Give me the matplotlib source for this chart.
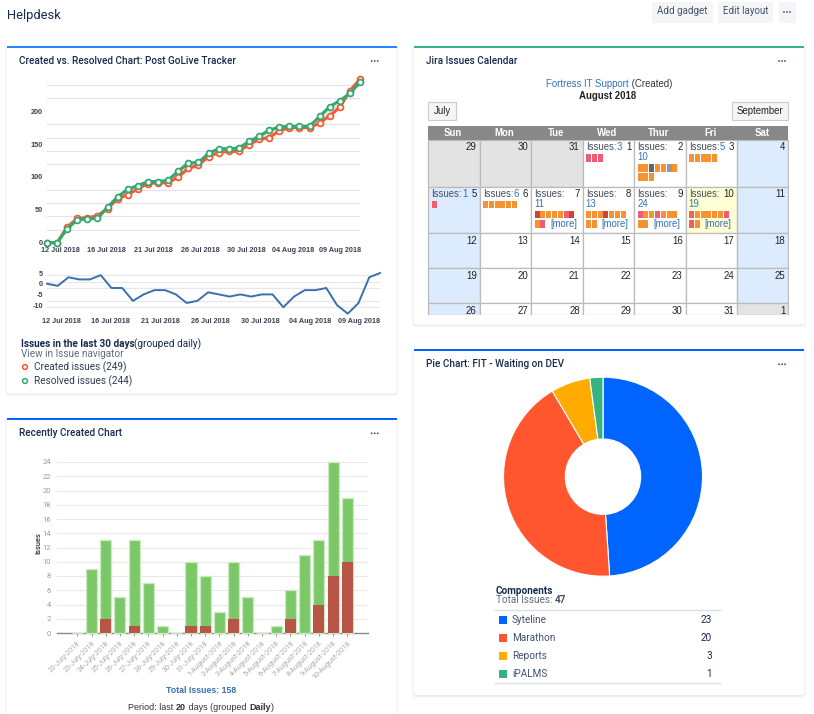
import matplotlib
matplotlib.use("Agg")
import matplotlib.pyplot as plt
from matplotlib.patches import Rectangle, FancyBboxPatch, Circle

# ---------- data ----------
created = [0,0,24,37,38,41,52,67,73,82,90,91,91,100,113,118,131,137,139,139,149,157,160,170,175,175,175,182,193,206,231,249]
resolved = [0,0,21,35,36,37,54,70,81,87,93,93,95,109,121,122,136,143,143,144,154,162,171,176,177,177,177,192,207,216,227,244]
diff = [0,-1,3,2,2,4,-2,-2,-8,-5,-3,-3,-5,-9,-8,-4,-5,-6,-5,-6,-5,-5,-11,-6,-3,-3,-2,-10,-14,-9,3,5]
date_labels = ["12 Jul 2018","16 Jul 2018","21 Jul 2018","26 Jul 2018","30 Jul 2018","04 Aug 2018","09 Aug 2018"]

bar_days = ["22-July-2018","23-July-2018","24-July-2018","25-July-2018","26-July-2018","27-July-2018","28-July-2018",
            "29-July-2018","30-July-2018","31-July-2018","1-August-2018","2-August-2018","3-August-2018","4-August-2018",
            "5-August-2018","6-August-2018","7-August-2018","8-August-2018","9-August-2018","10-August-2018"]
bar_total = [0,9,13,5,13,7,1,0,10,8,3,10,5,0,1,6,11,13,24,19]
bar_red = [0,0,2,0,1,0,0,0,1,1,0,2,0,0,0,2,0,4,8,10]

pie_names = ["Syteline","Marathon","Reports","iPALMS"]
pie_values = [23,20,3,1]
pie_colors = ["#0065FF","#FF5630","#FFAB00","#36B37E"]

week_names = ["Sun","Mon","Tue","Wed","Thur","Fri","Sat"]
cal_weeks = [[29,30,31,1,2,3,4],[5,6,7,8,9,10,11],[12,13,14,15,16,17,18],[19,20,21,22,23,24,25],[26,27,28,29,30,31,1]]
cal_counts = {1:3,2:10,3:5,5:1,6:6,7:11,8:13,9:24,10:19}
cal_squares = {1:"ppp",2:"ooDoogo|ooo",3:"ooooo",5:"p",6:"oooooo",7:"RooooPR|oP",8:"oooRooo|oo",9:"pooPooo|oo",10:"pooooop|po"}
cal_more = [7,8,9,10]

# ---------- page ----------
W,H = 814,714
fig = plt.figure(figsize=(W/100,H/100),dpi=100,facecolor="white")
plt.rcParams["font.family"] = ["Roboto","DejaVu Sans"]
base = fig.add_axes([0,0,1,1]); base.set_xlim(0,W); base.set_ylim(H,0); base.axis("off")
rend = fig.canvas.get_renderer()
NAVY="#172B4D"; GREY="#5E6C84"; BLUE="#205081"

def T(x,y,s,size=7.2,color=NAVY,weight="normal",ha="left",family=None,**kw):
    return base.text(x,y,s,fontsize=size,color=color,fontweight=weight,ha=ha,va="center",
                     family=family or ["Roboto","DejaVu Sans"],**kw)

def chain(x,y,parts,center=False,family=None,size=7.2):
    arts=[]; cx=x
    for s,col,wt in parts:
        t=T(cx,y,s,size=size,color=col,weight=wt,family=family); arts.append(t)
        cx+=t.get_window_extent(rend).width
    if center:
        shift=(cx-x)/2
        for t in arts: t.set_x(t.get_position()[0]-shift)

def dots(x,y):
    for dx in (-3,0,3):
        base.add_patch(Circle((x+dx,y),0.9,fc="#42526E",ec="none"))

def card(x0,y0,x1,y1,top,title):
    for g,a in ((3,0.025),(1.5,0.05)):
        base.add_patch(FancyBboxPatch((x0-g+1,y0),x1-x0+2*g-2,y1-y0+g,boxstyle="round,pad=0,rounding_size=3",fc="#091E42",ec="none",alpha=a))
    base.add_patch(FancyBboxPatch((x0,y0),x1-x0,y1-y0,boxstyle="round,pad=0,rounding_size=3",fc="white",ec="none"))
    base.add_patch(Rectangle((x0,y0-0.5),x1-x0,2,fc=top,ec="none"))
    T(x0+12.3,y0+14.7,title,size=7.2,weight="medium",color=NAVY)
    dots(x1-22,y0+15)

def axpx(x0,y0,x1,y1):
    ax=fig.add_axes([x0/W,1-y1/H,(x1-x0)/W,(y1-y0)/H]); ax.patch.set_alpha(0)
    return ax

T(7,16,"Helpdesk",size=9.3)
for x0,x1,s in ((652,713,"Add gadget"),(718,773,"Edit layout")):
    base.add_patch(Rectangle((x0,2),x1-x0,21,fc="#F4F5F7",ec="none"))
    T((x0+x1)/2,11,s,size=7.0,color="#42526E",ha="center")
base.add_patch(Rectangle((778.5,2),17.5,21,fc="#F4F5F7",ec="none")); dots(787,12)

card(6.7,46,396.7,393.3,"#2684FF","Created vs. Resolved Chart: Post GoLive Tracker")
card(414,46,804,324.5,"#36B37E","Jira Issues Calendar")
card(6.7,418.3,396.7,730,"#0065FF","Recently Created Chart")
card(414,349.3,804,695,"#0065FF","Pie Chart: FIT - Waiting on DEV")

# ---------- created vs resolved ----------
RED="#FF5630"; GREEN="#36A76F"
lab=dict(fontsize=5.2,fontweight="bold",color="#3A4256",family=["Liberation Sans","DejaVu Sans"])
ax=axpx(47,79,360,242.7)
xs=list(range(len(created)))
ax.set_xlim(0,len(created)-1); ax.set_ylim(0,249)
ax.fill_between(xs,created,resolved,color="#CFE5D2",alpha=.7,lw=0)
ax.plot(xs,created,color=RED,lw=2.2,marker="o",ms=4.2,mfc="white",mec=RED,mew=1.3,clip_on=False,zorder=4)
ax.plot(xs,resolved,color=GREEN,lw=2.2,marker="o",ms=4.2,mfc="white",mec=GREEN,mew=1.3,clip_on=False,zorder=5)
ax.set_yticks(range(0,241,20),minor=True); ax.grid(True,which="minor",axis="y",color="#E2E3E8",lw=.8); ax.set_axisbelow(True)
ax.set_yticks(range(0,201,50)); ax.set_yticklabels([str(v) for v in range(0,201,50)],**lab)
ax.set_xticks([1.29+4.62*i for i in range(7)]); ax.set_xticklabels(date_labels,**lab)
ax.tick_params(which="both",length=0,pad=3)
for s in ax.spines.values(): s.set_visible(False)

ax=axpx(47,273,380,313.7)
ax.set_xlim(0,len(diff)-1); ax.set_ylim(-14,5)
ax.plot(range(len(diff)),diff,color="#3B6FB0",lw=1.4,clip_on=False,zorder=3)
ax.set_yticks(range(-14,5,3),minor=True); ax.grid(True,which="minor",axis="y",color="#E6E7EB",lw=.8); ax.set_axisbelow(True)
ax.set_yticks([5,0,-5,-10]); ax.set_yticklabels(["5","0","-5","-10"],**lab)
ax.set_xticks([1.3+4.63*i for i in range(7)]); ax.set_xticklabels(date_labels,**lab)
ax.tick_params(which="both",length=0,pad=3)
for s in ax.spines.values(): s.set_visible(False)

chain(20.7,344,[("Issues in the last 30 days",NAVY,"bold"),("(grouped daily)",NAVY,"normal")])
T(20.7,354,"View in Issue navigator",color=GREY)
T(33.5,367,"Created issues (249)",color="#2F3B55")
T(33.5,381,"Resolved issues (244)",color="#2F3B55")
base.add_patch(Circle((25,367),2.4,fc="white",ec=RED,lw=1.1))
base.add_patch(Circle((25,381),2.4,fc="white",ec=GREEN,lw=1.1))

# ---------- calendar ----------
CAL=["Liberation Sans","DejaVu Sans"]
LNK="#3572B0"; FS=6.9
chain(546,84,[("Fortress IT Support",LNK,"normal"),(" (Created)","#333333","normal")],family=CAL,size=FS)
T(608,96,"August 2018",size=FS,weight="bold",color="#222222",ha="center",family=CAL)
for x0,x1,s in ((428.3,455.7,"July"),(732.3,787.7,"September")):
    base.add_patch(Rectangle((x0,102.3),x1-x0,18,fc="#F5F5F5",ec="#CCCCCC",lw=.8))
    T((x0+x1)/2,111,s,size=FS,color="#222222",ha="center",family=CAL)
cols=[428.3,479.7,531.3,582.7,634.3,685.7,737.3,788.3]
rows=[140,186.7,233.3,268.3,303.3,315]
base.add_patch(Rectangle((cols[0],126),cols[-1]-cols[0],14,fc="#888888",ec="none"))
for i,n in enumerate(week_names):
    T((cols[i]+cols[i+1])/2-1,133,n,size=FS,weight="bold",color="white",ha="center",family=CAL)
sq_col=dict(o="#F79232",p="#F15C75",P="#F15C75",R="#D04437",D="#666666",g="#999999")
clip=Rectangle((cols[0]-1,rows[0]),cols[-1]-cols[0]+2,rows[-1]-rows[0],fc="none",ec="none")
base.add_patch(clip)
for r,week in enumerate(cal_weeks):
    for c,d in enumerate(week):
        out=(r==0 and c<3) or (r==4 and c==6)
        fc="#E3E3E3" if out else "#FFFFD5" if (r==1 and c==5) else "#DCEBFE" if c in (0,6) else "white"
        rect=Rectangle((cols[c],rows[r]),cols[c+1]-cols[c],rows[r+1]-rows[r],fc=fc,ec="#BBBBBB",lw=.9)
        base.add_patch(rect); rect.set_clip_path(clip)
        ty=rows[r]+7.4
        t=T(cols[c+1]-3,ty,str(d),size=FS,color="#222222",ha="right",family=CAL); t.set_clip_path(clip)
        if out or d not in cal_counts: continue
        n=cal_counts[d]
        x=cols[c]+3
        T(x,ty,"Issues:",size=FS,color="#444C5E",family=CAL)
        if n<10:
            T(x+31,ty,str(n),size=FS,color=LNK,family=CAL); sy=ty+6.8
        else:
            T(x,ty+10,str(n),size=FS,color=LNK,family=CAL); sy=ty+16.6
        for j,line in enumerate(cal_squares[d].split("|")):
            for k,code in enumerate(line):
                base.add_patch(Rectangle((x+0.4+k*5.78,sy+j*9.4),5.0,7.6,fc=sq_col[code],ec="none"))
            if d in cal_more and j==1:
                T(x+0.4+len(line)*5.78+3.8,sy+j*9.4+3.8,"[more]",size=FS,color=LNK,family=CAL)
base.add_patch(Rectangle((414,315.2),390,8.5,fc="white",ec="none"))

# ---------- bars ----------
ax=axpx(56.7,462,368.3,633)
pos=list(range(len(bar_total)))
ax.set_xlim(-1.45,len(bar_total)-1+(1045-982)/42.6); ax.set_ylim(0,24)
ax.bar(pos,bar_total,width=.78,color="#7CC868",edgecolor="#C8EBBF",lw=.9,clip_on=False,zorder=3)
ax.bar(pos,bar_red,width=.78,color="#B85547",edgecolor="none",zorder=4)
ax.set_yticks(range(0,25,2)); ax.set_yticklabels([str(v) for v in range(0,25,2)],fontsize=5.4,color="#9A9A9A")
ax.grid(True,axis="y",color="#E8E8E8",lw=.8); ax.set_axisbelow(True)
ax.set_xticks(pos); ax.set_xticklabels(bar_days,rotation=45,ha="right",rotation_mode="anchor",fontsize=5.2,color="#ABABAB")
ax.tick_params(axis="y",length=0,pad=4); ax.tick_params(axis="x",length=2,width=.6,color="#888888",pad=3)
for k,s in ax.spines.items(): s.set_visible(k=="bottom")
ax.spines["bottom"].set_color("#8A8A8A"); ax.spines["bottom"].set_linewidth(1)
T(38.7,542.7,"Issues",size=5.4,color="#333333",weight="medium",rotation=90,ha="center")
T(201,690.7,"Total Issues: 158",size=6.3,color=LNK,weight="bold",ha="center",family=CAL)
chain(201,708,[("Period: last ","#333333","normal"),("20","#333333","bold"),(" days (grouped ","#333333","normal"),("Daily","#333333","bold"),(")","#333333","normal")],center=True,family=CAL,size=6.5)

# ---------- pie ----------
r_px=99.5
ax=axpx(603-r_px,476.7-r_px,603+r_px,476.7+r_px)
ax.pie(pie_values,colors=pie_colors,startangle=90,counterclock=False,radius=1,
       wedgeprops=dict(width=1-37.7/99.5,edgecolor="white",linewidth=.8))
ax.set_xlim(-1,1); ax.set_ylim(-1,1)
T(495.5,590.7,"Components",weight="bold",size=7.2)
chain(495.5,600,[("Total Issues: ",GREY,"normal"),(str(sum(pie_values)),"#42526E","bold")],size=7.2)
base.plot([495,720],[610,610],color="#DCDFE4",lw=1)
base.plot([495,720],[683,683],color="#DCDFE4",lw=1)
for i,(n,v,c) in enumerate(zip(pie_names,pie_values,pie_colors)):
    y=620+18*i
    base.add_patch(Rectangle((499,y-4),8,8,fc=c,ec="none"))
    T(512,y,n,color="#42526E",size=7.2)
    T(712,y,str(v),color=NAVY,size=7.2,ha="right")
base.set_xlim(0,W); base.set_ylim(H,0)

fig.savefig("out.png",dpi=100)
